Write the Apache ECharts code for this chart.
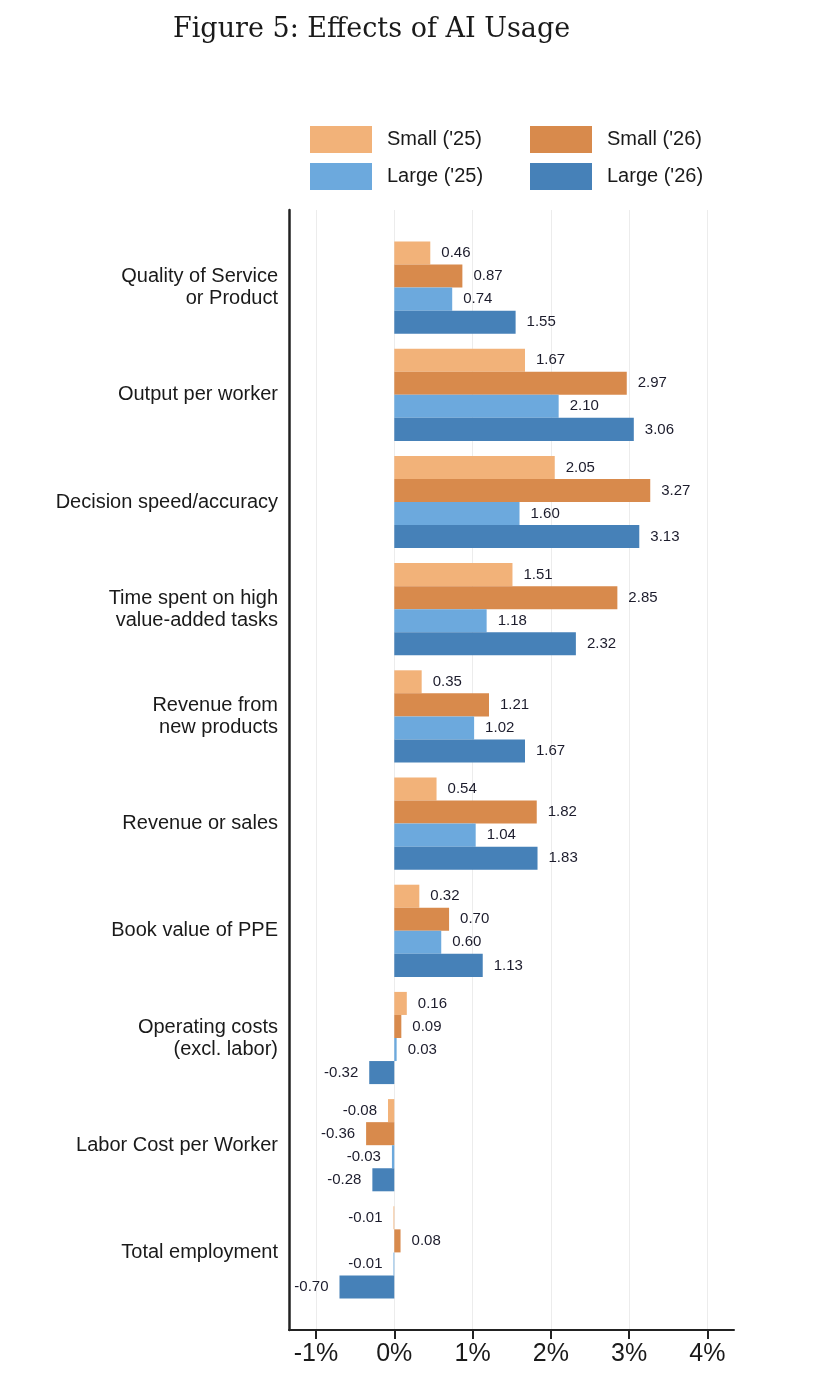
<!DOCTYPE html>
<html>
<head>
<meta charset="utf-8">
<script src="https://cdn.jsdelivr.net/npm/echarts@6/dist/echarts.min.js"></script>
<style>
  html, body { margin: 0; padding: 0; background: #fff; }
  #chart { width: 834px; height: 1394px; }
</style>
</head>
<body>
<div id="chart"></div>
<script>
// categories, top to bottom
var categories = [
  'Quality of Service\nor Product',
  'Output per worker',
  'Decision speed/accuracy',
  'Time spent on high\nvalue-added tasks',
  'Revenue from\nnew products',
  'Revenue or sales',
  'Book value of PPE',
  'Operating costs\n(excl. labor)',
  'Labor Cost per Worker',
  'Total employment'
];
var seriesNames = ["Small ('25)", "Small ('26)", "Large ('25)", "Large ('26)"];
var small25 = [0.46, 1.67, 2.05, 1.51, 0.35, 0.54, 0.32, 0.16, -0.08, -0.01];
var small26 = [0.87, 2.97, 3.27, 2.85, 1.21, 1.82, 0.70, 0.09, -0.36, 0.08];
var large25 = [0.74, 2.10, 1.60, 1.18, 1.02, 1.04, 0.60, 0.03, -0.03, -0.01];
var large26 = [1.55, 3.06, 3.13, 2.32, 1.67, 1.83, 1.13, -0.32, -0.28, -0.70];
var xTicks = [-1, 0, 1, 2, 3, 4];

var colors = ['#F2B279', '#D88A4C', '#6CA9DD', '#4681B8'];
var xMin = -1.345, xMax = 4.34;

var myChart = echarts.init(document.getElementById('chart'));

function makeSeries(name, values, color) {
  return {
    name: name,
    type: 'bar',
    xAxisIndex: 0,
    yAxisIndex: 0,
    barGap: '0%',
    barCategoryGap: '14%',
    itemStyle: { color: color },
    label: {
      show: true,
      distance: 11,
      color: '#1c1c2c',
      fontFamily: 'Liberation Sans',
      fontSize: 15,
      formatter: function (p) { return p.value.toFixed(2); }
    },
    // 负值的标签放左边
    data: values.map(function (v) {
      return { value: v, label: { position: v < 0 ? 'left' : 'right' } };
    })
  };
}

var legendText = { fontFamily: 'Liberation Sans', fontSize: 20, color: '#1a1a1a', padding: [0, 0, 0, 10] };

var option = {
  backgroundColor: '#fff',
  animation: false,
  title: {
    text: 'Figure 5: Effects of AI Usage',
    left: 168,
    top: 11,
    textStyle: {
      fontFamily: 'DejaVu Serif',
      fontWeight: 'normal',
      fontSize: 27,
      color: '#1a1a1a'
    }
  },
  legend: [
    {
      data: [seriesNames[0], seriesNames[2]],
      orient: 'vertical',
      left: 305,
      top: 121,
      itemWidth: 62,
      itemHeight: 27,
      itemGap: 10,
      icon: 'rect',
      textStyle: legendText
    },
    {
      data: [seriesNames[1], seriesNames[3]],
      orient: 'vertical',
      left: 525,
      top: 121,
      itemWidth: 62,
      itemHeight: 27,
      itemGap: 10,
      icon: 'rect',
      textStyle: legendText
    }
  ],
  grid: [
    // 放柱子的区域
    { left: 289, right: 100, top: 234, bottom: 88 },
    // 外框和坐标轴
    { left: 289, right: 100, top: 210, bottom: 64 }
  ],
  xAxis: [
    { gridIndex: 0, type: 'value', min: xMin, max: xMax, show: false },
    {
      gridIndex: 1,
      type: 'value',
      min: xMin,
      max: xMax,
      position: 'bottom',
      axisLine: { show: true, onZero: false, lineStyle: { color: '#222', width: 2 } },
      axisTick: { show: true, length: 9, customValues: xTicks, lineStyle: { color: '#222', width: 2 } },
      axisLabel: {
        customValues: xTicks,
        margin: 12,
        fontFamily: 'Liberation Sans',
        fontSize: 25,
        color: '#1a1a1a',
        formatter: function (v) { return v + '%'; }
      },
      splitLine: { show: true, lineStyle: { color: '#ececec', width: 1 } }
    }
  ],
  yAxis: [
    {
      gridIndex: 0,
      type: 'category',
      inverse: true,
      data: categories,
      axisLine: { show: false },
      axisTick: { show: false },
      axisLabel: {
        margin: 11,
        fontFamily: 'Liberation Sans',
        fontSize: 20,
        lineHeight: 22,
        color: '#1a1a1a'
      }
    },
    {
      gridIndex: 1,
      type: 'value',
      min: 0,
      max: 1,
      axisLine: { show: true, onZero: false, lineStyle: { color: '#222', width: 2.5 } },
      axisTick: { show: false },
      axisLabel: { show: false },
      splitLine: { show: false }
    }
  ],
  series: [
    makeSeries(seriesNames[0], small25, colors[0]),
    makeSeries(seriesNames[1], small26, colors[1]),
    makeSeries(seriesNames[2], large25, colors[2]),
    makeSeries(seriesNames[3], large26, colors[3])
  ]
};

myChart.setOption(option);
</script>
</body>
</html>
